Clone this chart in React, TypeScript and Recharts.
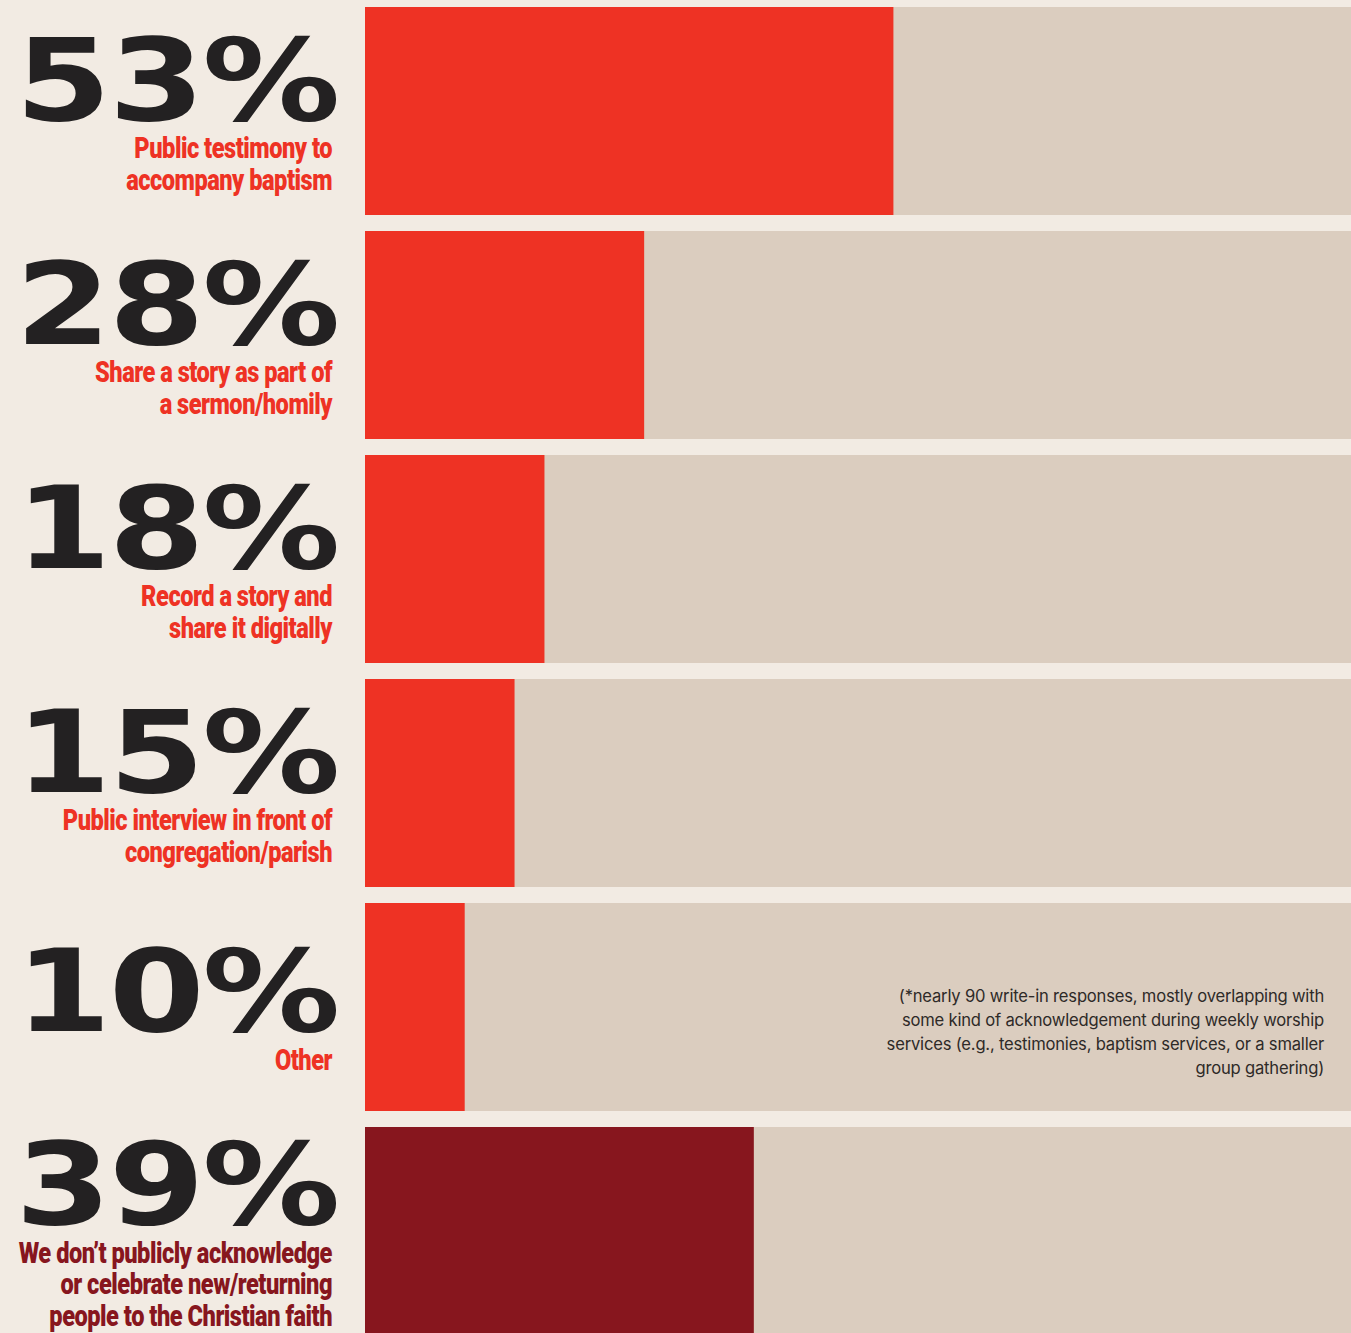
import { BarChart, Bar, XAxis, YAxis, Cell } from 'recharts';

const labels = [
  'Public testimony to\naccompany baptism',
  'Share a story as part of\na sermon/homily',
  'Record a story and\nshare it digitally',
  'Public interview in front of\ncongregation/parish',
  'Other',
  'We don\u2019t publicly acknowledge\nor celebrate new/returning\npeople to the Christian faith',
];
const shares = [53, 28, 18, 15, 10, 39];
const footnote = [
  '(*nearly 90 write-in responses, mostly overlapping with',
  'some kind of acknowledgement during weekly worship',
  'services (e.g., testimonies, baptism services, or a smaller',
  'group gathering)',
];

const data = labels.map((label, i) => ({ label, value: shares[i] }));

const RED = '#ee3224';
const DARK_RED = '#87161e';
const TRACK = '#dbcdbf';
const PAGE = '#f2ebe3';

if (typeof document !== 'undefined') {
  document.body.style.background = PAGE;
  document.body.style.margin = '0';
}

function Tick(props: any) {
  const { y, payload, index } = props;
  const lines: string[] = String(payload.value).split('\n');
  const i = typeof index === 'number' ? index : labels.indexOf(payload.value);
  const last = i === labels.length - 1;
  const pctBase = y + 24 - 15.5 * (lines.length - 1);
  const labelBase = pctBase + 38.5;
  return (
    <g>
      <text
        transform={`translate(338, ${pctBase}) scale(1.21, 1)`}
        textAnchor="end"
        fontFamily="DejaVu Sans"
        fontWeight="bold"
        fontSize={114}
        letterSpacing={-2}
        fill="#232122"
      >
        {shares[i]}%
      </text>
      <text
        transform={`translate(332, ${labelBase}) scale(0.8, 1)`}
        textAnchor="end"
        fontFamily="Roboto"
        fontWeight={900}
        fontSize={29.5}
        letterSpacing={-0.6}
        fill={last ? DARK_RED : RED}
      >
        {lines.map((l, k) => (
          <tspan key={k} x={0} dy={k === 0 ? 0 : 31.7}>
            {l}
          </tspan>
        ))}
      </text>
    </g>
  );
}

export default function App() {
  return (
    <div style={{ position: 'absolute', top: 0, left: 0, width: 1351, height: 1333, overflow: 'hidden' }}>
      <div style={{ position: 'absolute', top: -1, left: 0 }}>
        <BarChart
          width={1362}
          height={1344}
          data={data}
          layout="vertical"
          margin={{ top: 0, right: 0, bottom: 0, left: 0 }}
          barSize={208}
        >
          <XAxis type="number" domain={[0, 100]} hide />
          <YAxis
            type="category"
            dataKey="label"
            width={365}
            axisLine={false}
            tickLine={false}
            interval={0}
            tick={<Tick />}
          />
          <Bar dataKey="value" background={{ fill: TRACK }} isAnimationActive={false}>
            {data.map((_, i) => (
              <Cell key={i} fill={i === data.length - 1 ? DARK_RED : RED} />
            ))}
          </Bar>
        </BarChart>
      </div>
      <div
        style={{
          position: 'absolute',
          left: 0,
          top: 984,
          width: 1324,
          textAlign: 'right',
          fontFamily: 'Inter',
          fontSize: 16.6,
          lineHeight: '24px',
          letterSpacing: -0.2,
          color: '#2e2a28',
        }}
      >
        {footnote.map((t, k) => (
          <div key={k}>{t}</div>
        ))}
      </div>
    </div>
  );
}
